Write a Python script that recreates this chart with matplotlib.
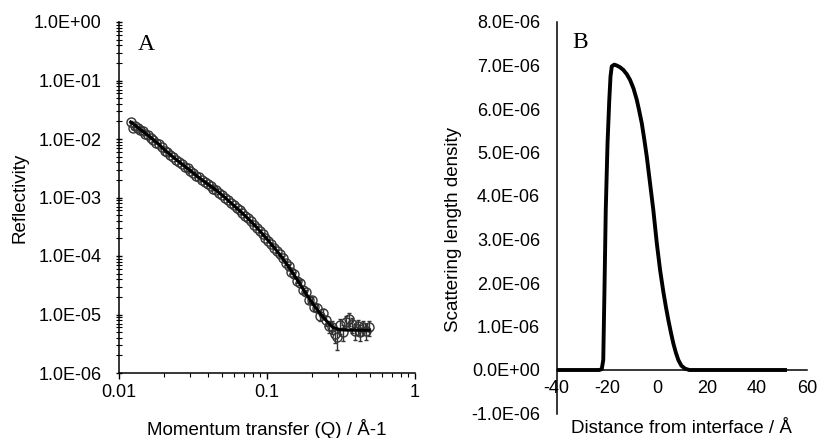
import matplotlib
matplotlib.use('Agg')
import matplotlib.pyplot as plt
from matplotlib.ticker import FuncFormatter, LogLocator, MultipleLocator, NullFormatter

plt.rcParams['font.family'] = ['Liberation Sans', 'DejaVu Sans']
plt.rcParams['axes.unicode_minus'] = False

# ---- panel A: measured reflectivity (points) and fit (line)
q_data = [0.0121, 0.0125, 0.0129, 0.0134, 0.0139, 0.0145, 0.0151, 0.0157, 0.0164, 0.0171,
          0.0178, 0.0186, 0.0194, 0.0203, 0.0212, 0.0222, 0.0232, 0.0243, 0.0254, 0.0266,
          0.0278, 0.0291, 0.0304, 0.0318, 0.0333, 0.0348, 0.0364, 0.0381, 0.0398, 0.0416,
          0.0435, 0.0455, 0.0476, 0.0498, 0.0521, 0.0545, 0.0570, 0.0596, 0.0623, 0.0652,
          0.0682, 0.0713, 0.0746, 0.0780, 0.0816, 0.0853, 0.0892, 0.0933, 0.0976, 0.102,
          0.107, 0.112, 0.117, 0.122, 0.128, 0.134, 0.140, 0.146, 0.153, 0.160,
          0.167, 0.175, 0.183, 0.191, 0.200, 0.209, 0.219, 0.229, 0.239, 0.250,
          0.262, 0.274, 0.286, 0.299, 0.313, 0.327, 0.342, 0.358, 0.374, 0.391,
          0.409, 0.428, 0.447, 0.468, 0.489]
r_data = [1.95e-2, 1.55e-2, 1.68e-2, 1.55e-2, 1.42e-2, 1.36e-2, 1.22e-2, 1.16e-2, 1.04e-2, 9.6e-3,
          8.7e-3, 8.3e-3, 7.3e-3, 6.2e-3, 6.0e-3, 5.3e-3, 5.0e-3, 4.4e-3, 4.1e-3, 3.8e-3,
          3.3e-3, 3.15e-3, 2.8e-3, 2.6e-3, 2.35e-3, 2.2e-3, 2.0e-3, 1.86e-3, 1.68e-3, 1.58e-3,
          1.42e-3, 1.33e-3, 1.2e-3, 1.1e-3, 9.9e-4, 9.0e-4, 8.0e-4, 7.4e-4, 6.6e-4, 6.0e-4,
          5.4e-4, 4.8e-4, 4.4e-4, 3.9e-4, 3.4e-4, 3.05e-4, 2.7e-4, 2.35e-4, 2.05e-4, 1.82e-4,
          1.6e-4, 1.38e-4, 1.2e-4, 1.07e-4, 9.2e-5, 7.6e-5, 6.7e-5, 5.4e-5, 4.9e-5, 3.8e-5,
          3.5e-5, 2.6e-5, 2.4e-5, 1.8e-5, 1.75e-5, 1.35e-5, 1.3e-5, 9.5e-6, 1.05e-5, 8.0e-6,
          6.3e-6, 6.2e-6, 4.6e-6, 4.2e-6, 6.5e-6, 5.0e-6, 7.4e-6, 8.5e-6, 6.8e-6, 5.2e-6,
          6.3e-6, 5.0e-6, 6.1e-6, 5.3e-6, 6.0e-6]
# relative error on each point
r_err_frac = [0.03, 0.03, 0.03, 0.03, 0.03, 0.03, 0.03, 0.03, 0.03, 0.03,
              0.03, 0.03, 0.03, 0.03, 0.03, 0.03, 0.03, 0.03, 0.03, 0.03,
              0.03, 0.03, 0.03, 0.03, 0.03, 0.03, 0.03, 0.03, 0.03, 0.03,
              0.04, 0.04, 0.04, 0.04, 0.04, 0.04, 0.04, 0.04, 0.04, 0.04,
              0.05, 0.05, 0.05, 0.05, 0.05, 0.05, 0.05, 0.05, 0.06, 0.06,
              0.06, 0.06, 0.07, 0.07, 0.07, 0.08, 0.08, 0.08, 0.09, 0.09,
              0.10, 0.10, 0.11, 0.12, 0.13, 0.14, 0.15, 0.17, 0.18, 0.20,
              0.22, 0.24, 0.28, 0.40, 0.28, 0.30, 0.28, 0.25, 0.28, 0.30,
              0.28, 0.30, 0.28, 0.30, 0.28]

q_fit = [0.0120, 0.0140, 0.0161, 0.0185, 0.0209, 0.0240, 0.0271, 0.0310, 0.0351, 0.0400,
         0.0455, 0.0520, 0.0589, 0.0670, 0.0764, 0.0870, 0.0990, 0.113, 0.128, 0.146,
         0.166, 0.185, 0.205, 0.228, 0.252, 0.279, 0.31, 0.36, 0.42, 0.49]
r_fit = [1.95e-2, 1.45e-2, 1.10e-2, 8.2e-3, 6.1e-3, 4.6e-3, 3.6e-3, 2.75e-3, 2.13e-3, 1.68e-3,
         1.33e-3, 1.0e-3, 7.5e-4, 5.6e-4, 4.1e-4, 2.9e-4, 2.0e-4, 1.35e-4, 9.0e-5, 5.6e-5,
         3.4e-5, 2.2e-5, 1.5e-5, 1.05e-5, 7.8e-6, 6.0e-6, 5.5e-6, 5.4e-6, 5.4e-6, 5.4e-6]

r_ticks = [1e-6, 1e-5, 1e-4, 1e-3, 1e-2, 1e-1, 1e0]
q_ticks = [0.01, 0.1, 1]

# ---- panel B: scattering length density profile (units of 1e-6)
z_dist = [-40, -30, -23, -22.0, -21.4, -20.9, -20.4, -19.7, -19.0, -18.5,
          -18.0, -17.0, -16.0, -14.7, -13.4, -12.0, -10.7, -9.3, -8.0, -7.0,
          -6.0, -5.0, -4.0, -2.7, -1.4, 0.0, 1.3, 2.6, 3.6, 4.6,
          5.6, 6.6, 7.6, 8.6, 9.8, 11.3, 13, 20, 30, 40, 52]
sld = [0, 0, 0, 0.02, 0.23, 1.9, 3.68, 5.2, 6.2, 6.75,
       6.98, 7.02, 7.0, 6.96, 6.9, 6.8, 6.67, 6.47, 6.21, 5.95,
       5.67, 5.3, 4.9, 4.29, 3.68, 2.91, 2.30, 1.80, 1.46, 1.15,
       0.87, 0.61, 0.40, 0.23, 0.1, 0.03, 0.0, 0, 0, 0, 0]

W, H = 817, 438
fig = plt.figure(figsize=(W / 100, H / 100), dpi=100)

def box(l, r, t, b):
    return [l / W, 1 - b / H, (r - l) / W, (b - t) / H]

fsz = 13

# Panel A
ax1 = fig.add_axes(box(119, 415, 22, 373))
r_err = [r * f for r, f in zip(r_data, r_err_frac)]
ax1.errorbar(q_data, r_data, yerr=r_err, fmt='o', ms=6.5, mfc='none', mec='#333333',
             mew=1.0, ecolor='#333333', elinewidth=1.0, capsize=1.5, zorder=2)
ax1.plot(q_fit, r_fit, color='black', lw=2.2, zorder=3)
ax1.set_xscale('log')
ax1.set_yscale('log')
ax1.set_xlim(0.01, 1)
ax1.set_ylim(1e-6, 1)
ax1.set_yticks(r_ticks)
ax1.set_xticks(q_ticks)
ax1.yaxis.set_minor_locator(LogLocator(base=10, subs=range(2, 10), numticks=10))
ax1.yaxis.set_major_formatter(FuncFormatter(lambda v, p: '%.1E' % v))
ax1.yaxis.set_minor_formatter(NullFormatter())
ax1.xaxis.set_major_formatter(FuncFormatter(lambda v, p: '%g' % v))
ax1.xaxis.set_minor_formatter(NullFormatter())
ax1.spines['top'].set_visible(False)
ax1.spines['right'].set_visible(False)
for s in ('left', 'bottom'):
    ax1.spines[s].set_linewidth(1.1)
ax1.tick_params(axis='y', which='both', direction='inout', labelsize=fsz, pad=10)
ax1.tick_params(axis='y', which='major', length=5, width=1)
ax1.tick_params(axis='y', which='minor', length=4, width=0.8)
ax1.tick_params(axis='x', which='both', direction='out', labelsize=fsz, pad=4)
ax1.tick_params(axis='x', which='major', length=4, width=1)
ax1.tick_params(axis='x', which='minor', length=3, width=0.8)
ax1.set_ylabel('Reflectivity', fontsize=13.5)
ax1.set_xlabel('Momentum transfer (Q) / Å-1', fontsize=13.5)
ax1.yaxis.set_label_coords((29 - 119) / (415 - 119), 0.5)
ax1.xaxis.set_label_coords(0.5, -(419 - 373) / (373 - 22))
ax1.text((146 - 119) / 296, 1 - (45 - 22) / 351, 'A', transform=ax1.transAxes,
         fontsize=17, family='Liberation Serif', ha='center', va='center')

# Panel B
ax2 = fig.add_axes(box(556.7, 807, 22, 413.5))
ax2.plot(z_dist, [v * 1e-6 for v in sld], color='black', lw=2.8, solid_capstyle='butt',
         solid_joinstyle='round')
ax2.set_xlim(-40, 60)
ax2.set_ylim(-1e-6, 8e-6)
ax2.xaxis.set_major_locator(MultipleLocator(20))
ax2.yaxis.set_major_locator(MultipleLocator(1e-6))
ax2.yaxis.set_major_formatter(FuncFormatter(lambda v, p: '%.1E' % v))
ax2.spines['top'].set_visible(False)
ax2.spines['right'].set_visible(False)
ax2.spines['bottom'].set_position(('data', 0))
for s in ('left', 'bottom'):
    ax2.spines[s].set_linewidth(1.1)
ax2.tick_params(axis='both', length=0, labelsize=fsz)
ax2.tick_params(axis='y', pad=12)
ax2.tick_params(axis='x', pad=7)
ax2.set_ylabel('Scattering length density', fontsize=13.5)
ax2.set_xlabel('Distance from interface / Å', fontsize=13.5)
ax2.yaxis.set_label_coords((462 - 556.7) / (807 - 556.7), 1 - (230 - 22) / (413.5 - 22))
ax2.xaxis.set_label_coords(0.5, -(420 - 413.5) / (413.5 - 22))
ax2.text((580 - 556.7) / 250.3, 1 - (42 - 22) / 391.5, 'B', transform=ax2.transAxes,
         fontsize=17, family='Liberation Serif', ha='center', va='center')

fig.savefig('out.png', dpi=100)
